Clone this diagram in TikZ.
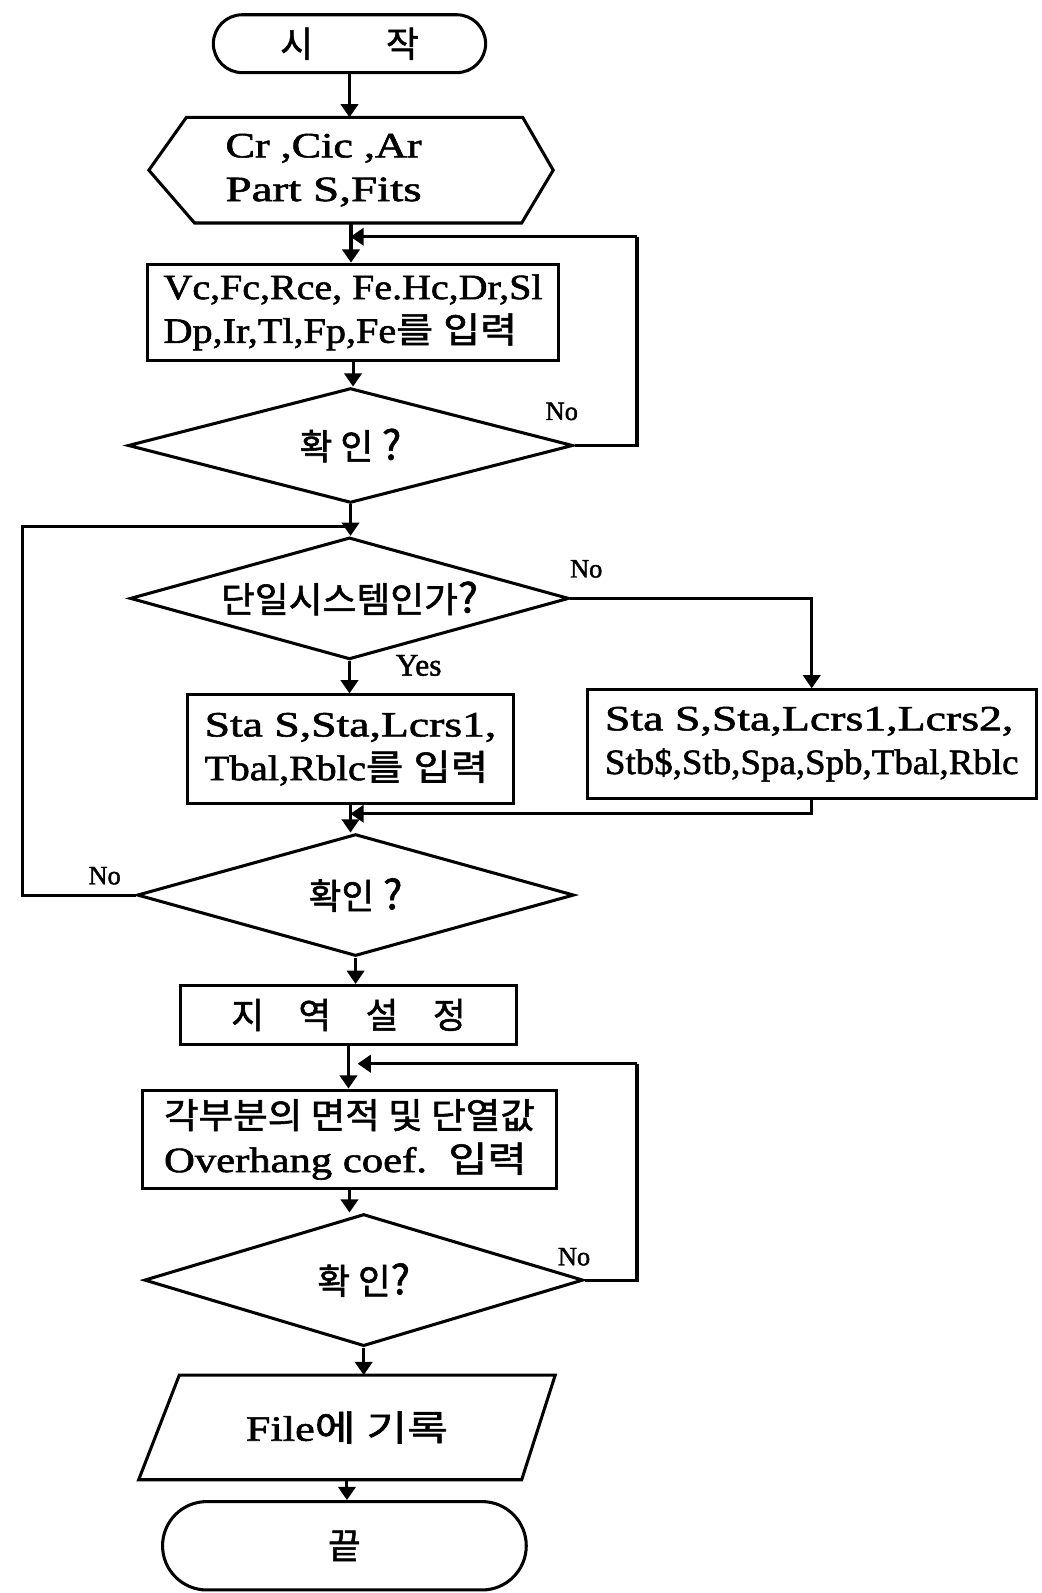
\documentclass[tikz,border=0pt]{standalone}
\usepackage{fontspec}
\usepackage{graphicx}
\setmainfont{Liberation Serif}[FakeBold=1.5]
\newfontfamily\kr{Noto Sans CJK KR}[FakeBold=1.5]
\usetikzlibrary{shapes.geometric,shapes.misc,arrows.meta,calc}
\newcommand\K[1]{{\kr #1}}
\newcommand\Qm{{\kr\fontsize{40}{43}\selectfont ?}}
\newcommand\fw[2]{\resizebox{#1pt}{\height}{#2}}
\begin{document}
\begin{tikzpicture}[x=1pt,y=-1pt, line width=3pt, line join=miter,
  every node/.style={font=\fontsize{35}{43}\selectfont},
  box/.style={draw, rectangle, inner sep=0pt, align=left},
  term/.style={draw, rounded rectangle, inner sep=0pt},
  dec/.style={draw, diamond, aspect=4, inner sep=0pt},
  plain/.style={rectangle, inner sep=0pt, align=left},
  arr/.style={-{Triangle[width=17pt,length=13pt]}},
  lab/.style={font=\fontsize{26}{26}\selectfont, inner sep=0pt}]
\useasboundingbox (0,0) rectangle (1025,1568);

% nodes
\node[term, minimum width=268pt, minimum height=57pt] (start) at (344,43) {\K{시}\hspace{72pt}\K{작}};
\node[plain, minimum width=395pt, minimum height=101pt] (hex) at (345.5,167.5)
  {\fw{193}{Cr ,Cic ,Ar}\rule{54pt}{0pt}\\\fw{193}{Part S,Fits}\rule{54pt}{0pt}};
\node[box, minimum width=405pt, minimum height=95pt] (box1) at (347.5,307.5)
  {\fw{373}{Vc,Fc,Rce, Fe.Hc,Dr,Sl}\\\fw{348}{Dp,Ir,Tl,Fp,Fe\K{를} \K{입력}}};
\node[dec, minimum width=438pt, minimum height=113pt] (d1) at (345,438.5) {\K{확 인} \Qm};
\node[dec, minimum width=432pt, minimum height=120pt] (d2) at (344,589) {\fw{253}{\K{단일시스템인가}\Qm}};
\node[box, minimum width=320pt, minimum height=107pt] (box2) at (345,737.5)
  {\fw{287}{Sta S,Sta,Lcrs1,}\\\fw{279}{Tbal,Rblc\K{를} \K{입력}}};
\node[box, minimum width=442pt, minimum height=107pt] (box3) at (799,732.5)
  {\fw{402}{Sta S,Sta,Lcrs1,Lcrs2,}\\\fw{407}{Stb\$,Stb,Spa,Spb,Tbal,Rblc}};
\node[dec, minimum width=430pt, minimum height=120pt] (d3) at (350,881) {\K{확인} \Qm};
\node[box, minimum width=330pt, minimum height=58pt] (box4) at (343,999)
  {\K{지}\hspace{34pt}\K{역}\hspace{34pt}\K{설}\hspace{34pt}\K{정}};
\node[box, minimum width=408pt, minimum height=97pt] (box5) at (344,1121.5)
  {\fw{365}{\K{각부분의 면적 및 단열값}}\\\fw{357}{Overhang coef.\ \ \K{입력}}};
\node[dec, minimum width=432pt, minimum height=130pt] (d4) at (358,1260) {\K{확 인}\Qm};
\node[plain, minimum width=407pt, minimum height=100pt] (para) at (341.5,1405)
  {\fw{199}{File\K{에} \K{기록}}};
\node[term, minimum width=358pt, minimum height=87pt] (end) at (339,1521.5) {\K{끝}};

% hand-drawn outlines
\draw ($(hex.north west)+(37,0)$) -- ($(hex.north east)+(-30,0)$) -- (hex.east)
  -- ($(hex.south east)+(-31,0)$) -- ($(hex.south west)+(45,0)$) -- (hex.west) -- cycle;
\draw ($(para.north west)+(40,0)$) -- (para.north east)
  -- ($(para.south east)+(-33,0)$) -- (para.south west) -- cycle;

% free-end coordinates
\coordinate (r1) at (627,438.5);
\coordinate (r1t) at (627,233);
\coordinate (j1) at (345,233);
\coordinate (l1) at (22,881);
\coordinate (l2) at (22,518);
\coordinate (j2) at (345,518);
\coordinate (m1) at (345,801);
\coordinate (r4) at (627,1260);
\coordinate (r4t) at (627,1047);
\coordinate (j4) at (352,1047);

% connectors
\draw[arr] (start.south) -- (start.south |- hex.north);
\draw[arr] (hex.south) -- (hex.south |- box1.north);
\draw[arr] (r1t) -- (j1);
\draw (d1.east) -- (r1) -- (r1t);
\draw[arr] (box1.south) -- (box1.south |- d1.north);
\draw[arr] (d1.south) -- (d1.south |- d2.north);
\draw (d3.west) -- (l1) -- (l2) -- (j2);
\draw[arr] (d2.south) -- (d2.south |- box2.north);
\draw[arr] (d2.east) -| (box3.north);
\draw[arr] (box3.south) |- (m1);
\draw[arr] (box2.south) -- (box2.south |- d3.north);
\draw[arr] (d3.south) -- (d3.south |- box4.north);
\draw[arr] (box4.south) -- (box4.south |- box5.north);
\draw (d4.east) -- (r4) -- (r4t);
\draw[arr] (r4t) -- (j4);
\draw[arr] (box5.south) -- (box5.south |- d4.north);
\draw[arr] (d4.south) -- (d4.south |- para.north);
\draw[arr] (para.south) -- (para.south |- end.north);

% labels
\node[lab] (no1) at (553,405) {No};
\node[lab] (no2) at (577,560) {No};
\node[lab] (no3) at (103,862) {No};
\node[lab] (no4) at (565,1237) {No};
\node[lab, font=\fontsize{31}{31}\selectfont] (yes) at (412,655) {Yes};
\end{tikzpicture}
\end{document}
